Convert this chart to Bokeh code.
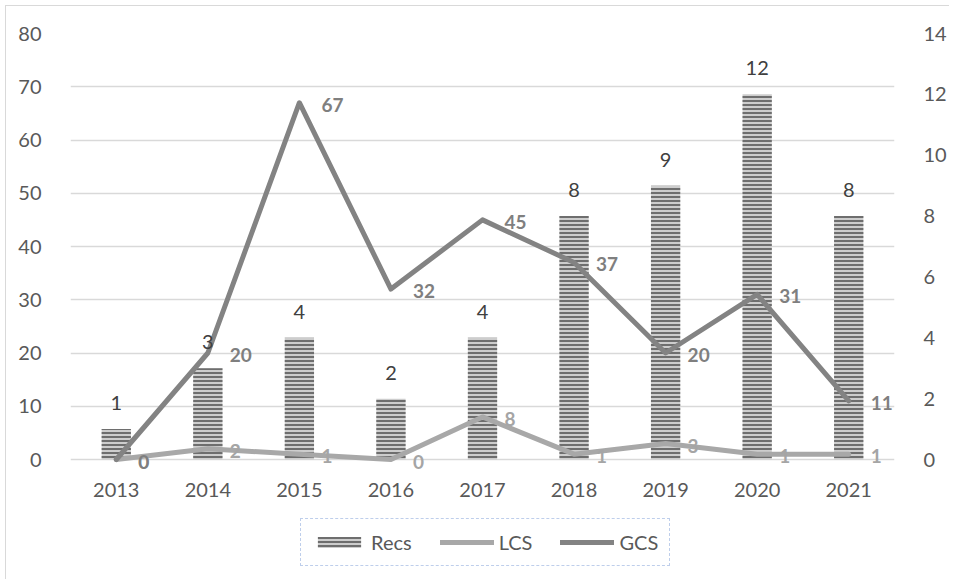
from bokeh.plotting import figure
from bokeh.layouts import column
from bokeh.models import (FactorRange, Range1d, LinearAxis, SingleIntervalTicker,
                          Legend, LegendItem, ColumnDataSource)
from bokeh.core.properties import value
from bokeh.embed import file_html
from bokeh.resources import INLINE

years = ["2013", "2014", "2015", "2016", "2017", "2018", "2019", "2020", "2021"]
recs = [1, 3, 4, 2, 4, 8, 9, 12, 8]
lcs = [0, 2, 1, 0, 8, 1, 3, 1, 1]
gcs = [0, 20, 67, 32, 45, 37, 20, 31, 11]
left_max, left_step = 80, 10
right_max, right_step = 14, 2

FONT = "Lato"
# extra room below zero so that labels at zero are not clipped
PAD = 13.0 / 426.0

BAR_STYLE = dict(fill_color="#cdcdcd", line_color=None,
                 hatch_pattern="horizontal_line", hatch_color="#555555",
                 hatch_scale=4, hatch_weight=1.6)
LCS_STYLE = dict(line_color="#a8a8a8", line_width=5, line_cap="round", line_join="round")
GCS_STYLE = dict(line_color="#838383", line_width=5, line_cap="round", line_join="round")

src = ColumnDataSource(dict(
    years=years, recs=recs, lcs=lcs, gcs=gcs,
    recs_t=[str(v) for v in recs], lcs_t=[str(v) for v in lcs], gcs_t=[str(v) for v in gcs],
))

p = figure(x_range=FactorRange(*years), y_range=Range1d(-left_max * PAD, left_max),
           width=943, height=506, output_backend="svg", toolbar_location=None,
           min_border_left=64, min_border_right=46, min_border_top=27, min_border_bottom=40)
p.outline_line_color = None
p.extra_y_ranges = {"recs": Range1d(-right_max * PAD, right_max)}

p.yaxis.ticker = SingleIntervalTicker(interval=left_step)
ra = LinearAxis(y_range_name="recs", ticker=SingleIntervalTicker(interval=right_step))
p.add_layout(ra, "right")
for ax in [p.yaxis[0], ra]:
    ax.axis_line_color = None
    ax.major_tick_line_color = None
    ax.minor_tick_line_color = None
    ax.major_label_text_font = FONT
    ax.major_label_text_font_size = "20px"
    ax.major_label_text_color = "#595959"
    ax.major_label_standoff = 23
p.xaxis.axis_line_color = None
p.xaxis.major_tick_line_color = None
p.xaxis.minor_tick_line_color = None
p.xaxis.major_label_text_font = FONT
p.xaxis.major_label_text_font_size = "20px"
p.xaxis.major_label_text_color = "#595959"
p.xaxis.major_label_standoff = 4
p.xgrid.grid_line_color = None
p.ygrid.grid_line_color = "#d9d9d9"
p.ygrid.grid_line_width = 1.5

bars = p.vbar(x="years", top="recs", width=0.32, source=src, y_range_name="recs", **BAR_STYLE)
l_lcs = p.line(x="years", y="lcs", source=src, **LCS_STYLE)
l_gcs = p.line(x="years", y="gcs", source=src, **GCS_STYLE)

p.text(x="years", y="recs", text="recs_t", source=src, y_range_name="recs",
       text_align="center", text_baseline="middle", y_offset=-26,
       text_font=value(FONT), text_font_size="20px", text_color="#404040")
p.text(x="years", y="lcs", text="lcs_t", source=src,
       text_align="left", text_baseline="middle", x_offset=22, y_offset=2,
       text_font=value(FONT), text_font_size="19px", text_font_style="bold",
       text_color="#a5a5a5")
p.text(x="years", y="gcs", text="gcs_t", source=src,
       text_align="left", text_baseline="middle", x_offset=22, y_offset=2,
       text_font=value(FONT), text_font_size="19px", text_font_style="bold",
       text_color="#7f7f7f")

# legend strip below the chart: same series, lying below its visible y range,
# so only the legend shows
p2 = figure(width=943, height=67, x_range=FactorRange(*years), y_range=Range1d(1000, 1001),
            output_backend="svg", toolbar_location=None,
            min_border=0, min_border_left=0, min_border_right=0,
            min_border_top=0, min_border_bottom=0)
p2.axis.visible = False
p2.grid.visible = False
p2.outline_line_color = None
lb = p2.vbar(x="years", top="recs", width=0, source=src, **BAR_STYLE)
ll = p2.line(x="years", y="lcs", source=src, **LCS_STYLE)
lg = p2.line(x="years", y="gcs", source=src, **GCS_STYLE)

legend = Legend(items=[LegendItem(label="Recs", renderers=[lb]),
                       LegendItem(label="LCS", renderers=[ll]),
                       LegendItem(label="GCS", renderers=[lg])],
                orientation="horizontal", location=(230, 13),
                glyph_width=54, glyph_height=14, label_standoff=5, spacing=28,
                padding=11, margin=0,
                label_text_font=FONT, label_text_font_size="20px",
                label_text_color="#595959",
                border_line_color="#7f9fd8", border_line_dash="2 2",
                border_line_width=1.5, background_fill_alpha=1)
p2.add_layout(legend)

layout = column(p, p2, spacing=0)
layout.styles = {"border-left": "1px solid #d9d9d9", "border-top": "1px solid #d9d9d9",
                 "margin-left": "5px", "margin-top": "5px"}

open("out.html", "w").write(file_html(layout, INLINE))
